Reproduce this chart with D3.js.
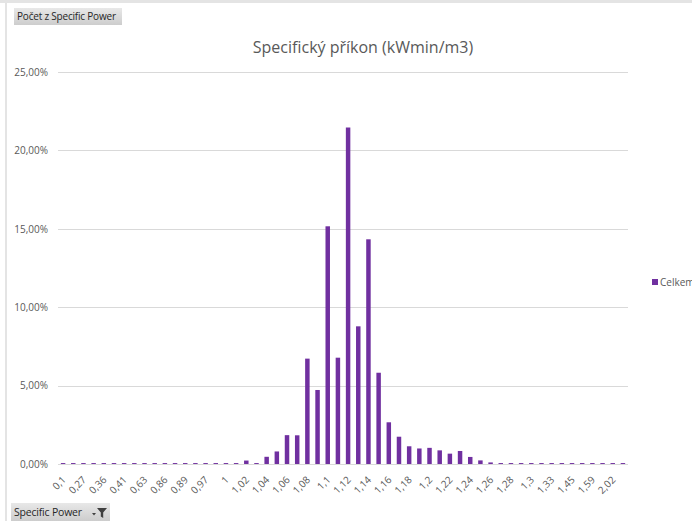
<!DOCTYPE html>
<html>
<head>
<meta charset="utf-8">
<script src="https://cdn.jsdelivr.net/npm/d3@7"></script>
<style>
  html, body { margin: 0; padding: 0; background: #fff; overflow: hidden; }
  svg { display: block; }
</style>
</head>
<body>
<svg id="chart" width="692" height="521"></svg>
<script>
// Specific power buckets (kWmin/m3)
const categories = [
  0.1, 0.2, 0.27, 0.3, 0.36, 0.38, 0.41, 0.5, 0.63, 0.7,
  0.86, 0.88, 0.89, 0.94, 0.97, 0.99, 1,
  1.01, 1.02, 1.03, 1.04, 1.05, 1.06, 1.07, 1.08, 1.09, 1.1,
  1.11, 1.12, 1.13, 1.14, 1.15, 1.16, 1.17, 1.18, 1.19, 1.2,
  1.21, 1.22, 1.23, 1.24, 1.25, 1.26, 1.27, 1.28, 1.29, 1.3,
  1.31, 1.33, 1.4, 1.45, 1.5, 1.59, 1.8, 2.02, 2.5
];

// Share of records per bucket, percent ("Celkem")
const celkem = [
  0.06, 0.06, 0.06, 0.06, 0.06, 0.06, 0.06, 0.06, 0.06, 0.06,
  0.06, 0.06, 0.06, 0.06, 0.06, 0.06, 0.06,
  0.06, 0.22, 0.06, 0.46, 0.80, 1.84, 1.83, 6.72, 4.72, 15.16,
  6.78, 21.46, 8.78, 14.33, 5.82, 2.66, 1.74, 1.13, 0.99, 1.03,
  0.87, 0.66, 0.83, 0.45, 0.23, 0.10, 0.06, 0.06, 0.06, 0.06,
  0.06, 0.06, 0.06, 0.06, 0.06, 0.06, 0.06, 0.06, 0.06
];

const yTicks = [0, 0.05, 0.10, 0.15, 0.20, 0.25];

const titleText = "Specifický příkon (kWmin/m3)";
const seriesName = "Celkem";
const valueFieldButton = "Počet z Specific Power";
const axisFieldButton = "Specific Power";

const cz = d3.formatLocale({ decimal: ",", thousands: "\u00a0", grouping: [3], currency: ["", " Kč"] });
const fmtPct = cz.format(".2%");
const fmtCat = cz.format(".3~g");

const FONT = "'Open Sans', 'Noto Sans', sans-serif";
const TEXT = "#595959";
const PURPLE = "#7030a0";

const svg = d3.select("#chart");

// frame lines of the sheet
svg.append("rect").attr("x", 0).attr("y", 0).attr("width", 692).attr("height", 3).attr("fill", "#e4e4e4");
svg.append("rect").attr("x", 5).attr("y", 0).attr("width", 2).attr("height", 521).attr("fill", "#e4e4e4");

const margin = { left: 58, right: 64, top: 72, bottom: 57 };
const plotW = 692 - margin.left - margin.right;
const plotH = 521 - margin.top - margin.bottom;

const x = d3.scaleBand()
  .domain(d3.range(categories.length))
  .range([margin.left, margin.left + plotW])
  .paddingInner(0.56)
  .paddingOuter(0.28);

const y = d3.scaleLinear()
  .domain([0, 0.25])
  .range([margin.top + plotH, margin.top]);

// horizontal gridlines
svg.append("g")
  .selectAll("line")
  .data(yTicks)
  .join("line")
  .attr("x1", margin.left)
  .attr("x2", margin.left + plotW)
  .attr("y1", d => Math.round(y(d)) + 0.5)
  .attr("y2", d => Math.round(y(d)) + 0.5)
  .attr("stroke", "#d9d9d9")
  .attr("stroke-width", 1);

// y axis labels
const yAxis = d3.axisLeft(y).tickValues(yTicks).tickFormat(fmtPct).tickSize(0).tickPadding(10);
const gy = svg.append("g").attr("transform", `translate(${margin.left},0)`).call(yAxis);
gy.select(".domain").remove();
gy.selectAll("text").attr("fill", TEXT).style("font-family", FONT).style("font-size", "10px");

// bars
svg.append("g")
  .selectAll("rect")
  .data(celkem)
  .join("rect")
  .attr("x", (d, i) => x(i))
  .attr("width", x.bandwidth())
  .attr("y", d => y(d / 100))
  .attr("height", d => y(0) - y(d / 100))
  .attr("fill", PURPLE);

// x axis: every second bucket labelled
const xAxis = d3.axisBottom(x)
  .tickValues(d3.range(0, categories.length, 2))
  .tickFormat(i => fmtCat(categories[i]))
  .tickSize(0)
  .tickPadding(0);
const gx = svg.append("g").attr("transform", `translate(0,${y(0)})`).call(xAxis);
gx.select(".domain").remove();
gx.selectAll("text")
  .attr("fill", TEXT)
  .style("font-family", FONT)
  .style("font-size", "10px")
  .attr("text-anchor", "end")
  .attr("dy", "0.35em")
  .attr("transform", "translate(1,14) rotate(-45)")
  .attr("y", 0)
  .attr("x", 0);

// title
svg.append("text")
  .attr("x", 363)
  .attr("y", 53)
  .attr("text-anchor", "middle")
  .attr("fill", TEXT)
  .style("font-family", FONT)
  .style("font-size", "16px")
  .text(titleText);

// legend
const lg = svg.append("g").attr("transform", "translate(652,279)");
lg.append("rect").attr("width", 6).attr("height", 6).attr("fill", PURPLE);
lg.append("text").attr("x", 8).attr("y", 6.5).attr("fill", TEXT)
  .style("font-family", FONT).style("font-size", "10px").text(seriesName);

// pivot field buttons
const defs = svg.append("defs");
const grad = defs.append("linearGradient").attr("id", "btnGrad").attr("x1", 0).attr("y1", 0).attr("x2", 0).attr("y2", 1);
grad.append("stop").attr("offset", "0%").attr("stop-color", "#e8e8e8");
grad.append("stop").attr("offset", "100%").attr("stop-color", "#cdcdcd");

function fieldButton(bx, by, bw, bh, label, size) {
  const g = svg.append("g").attr("transform", `translate(${bx},${by})`);
  g.append("rect").attr("width", bw).attr("height", bh).attr("fill", "url(#btnGrad)");
  g.append("text").attr("x", 3).attr("y", bh / 2 + 3.5).attr("fill", "#262626")
    .style("font-family", FONT).style("font-size", size + "px").style("letter-spacing", "-0.2px").text(label);
  return g;
}

fieldButton(14, 8, 108, 17, valueFieldButton, 10);
const fb = fieldButton(11, 503, 99, 18, axisFieldButton, 10.5);
// dropdown arrow and funnel icon
fb.append("path").attr("d", "M81,10 h4 l-2,2.5 z").attr("fill", "#404040");
fb.append("path").attr("d", "M86,5 h10 l-3.8,4.5 v5.5 l-2.4,-1.5 v-4 z").attr("fill", "#404040");
</script>
</body>
</html>
